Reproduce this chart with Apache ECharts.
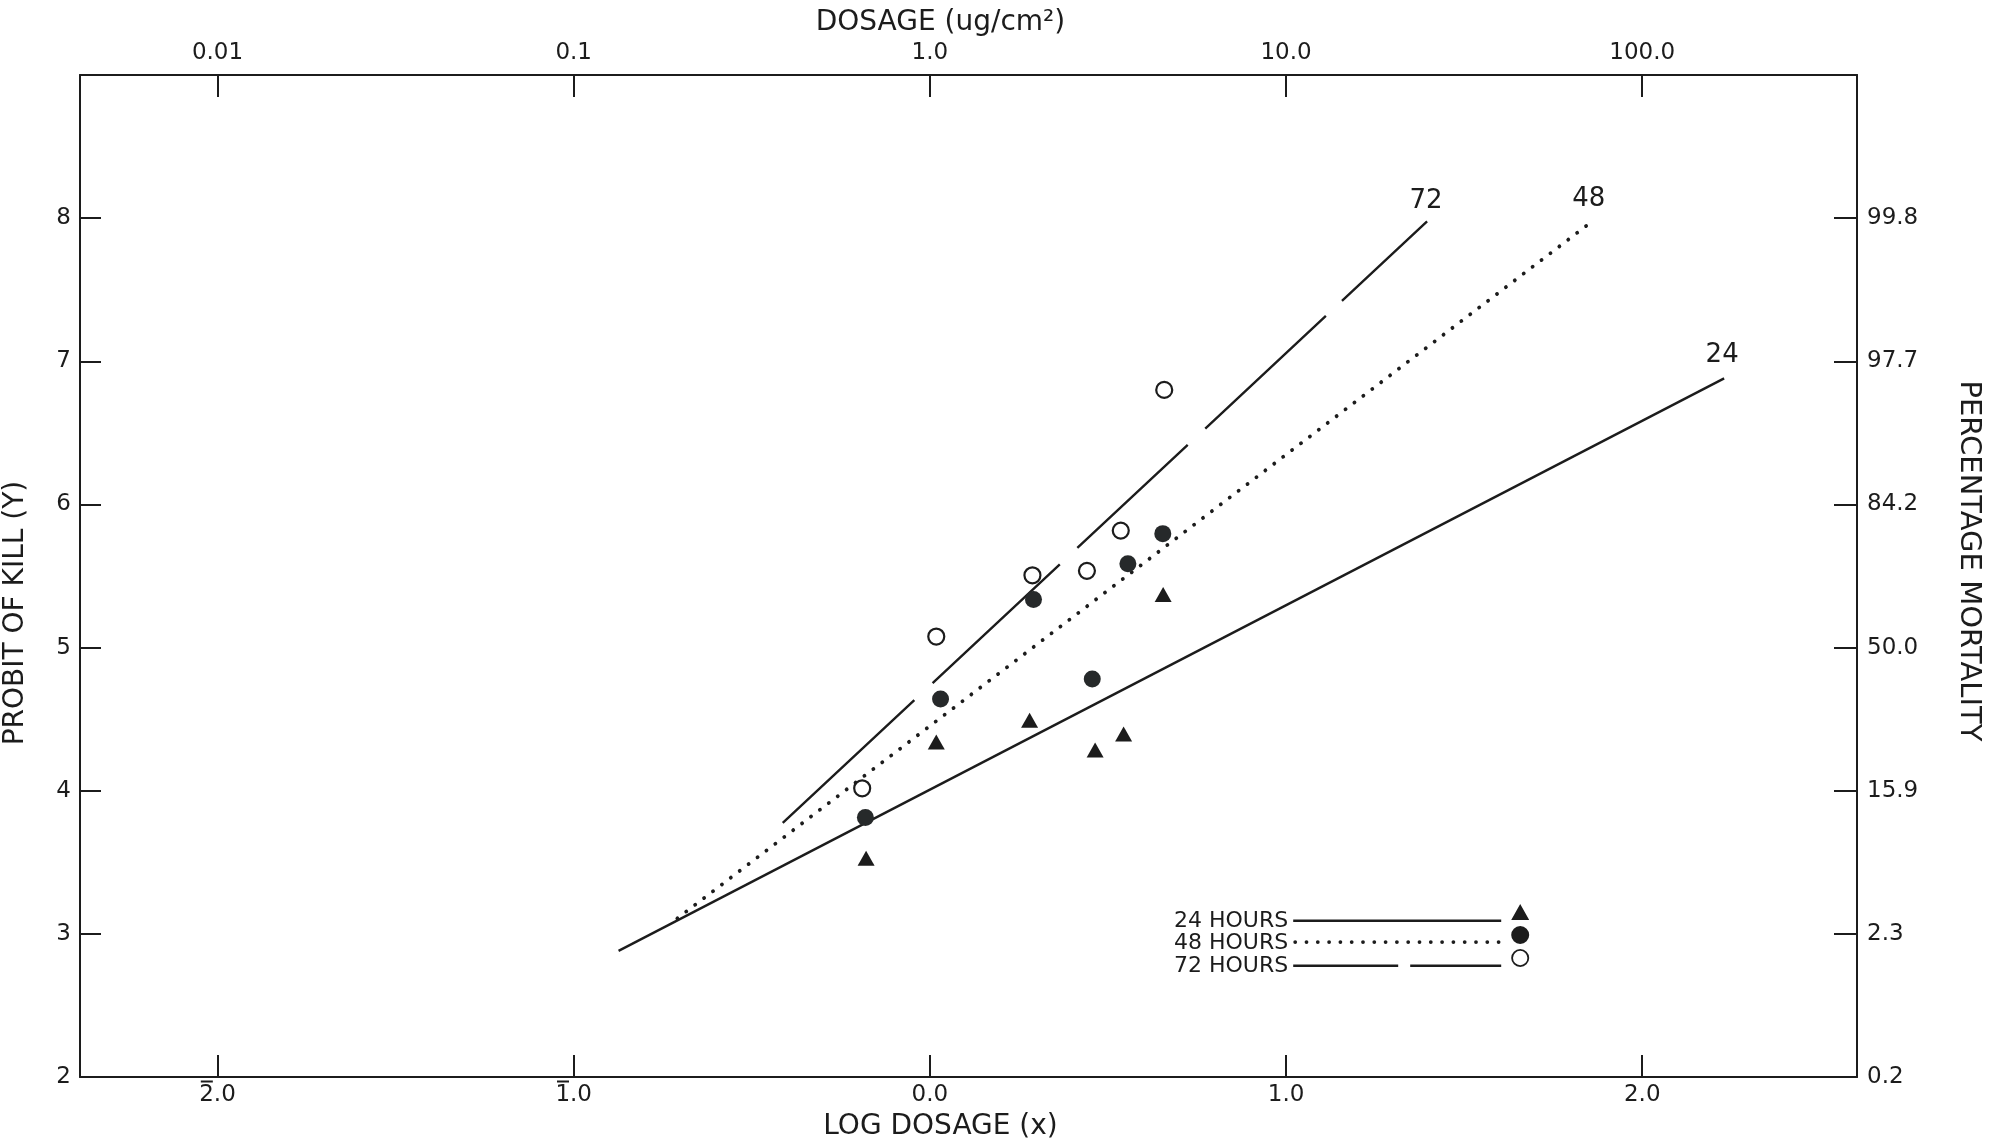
<!DOCTYPE html>
<html><head><meta charset="utf-8">
<script src="https://cdn.jsdelivr.net/npm/echarts@6/dist/echarts.min.js"></script>
<style>html,body{margin:0;padding:0;background:#fff}#c{width:1992px;height:1147px}</style>
</head><body><div id="c"></div>
<script>
// ---- data ----
const seriesNames = ['24 HOURS', '48 HOURS', '72 HOURS'];
const lineEndLabels = ['24', '48', '72'];
// observed points: [log dosage, probit]
const points24 = [[-0.179, 3.529], [0.018, 4.340], [0.280, 4.493], [0.464, 4.284], [0.544, 4.397], [0.655, 5.370]];
const points48 = [[-0.181, 3.813], [0.030, 4.641], [0.291, 5.336], [0.456, 4.781], [0.556, 5.586], [0.654, 5.796]];
const points72 = [[-0.190, 4.017], [0.018, 5.077], [0.288, 5.505], [0.441, 5.536], [0.536, 5.817], [0.658, 6.800]];
// fitted probit lines (end points)
const fitLine24 = [[-0.874, 2.881], [2.230, 6.881]];
const fitLine48 = [[-0.709, 3.108], [1.853, 7.965]];
const fitLine72 = [[-0.413, 3.775], [1.396, 7.977]];
// axes
const logDoseTicks = [-2, -1, 0, 1, 2];
const logDoseTickLabels = ['2\u0305.0', '1\u0305.0', '0.0', '1.0', '2.0'];
const doseTickLabels = ['0.01', '0.1', '1.0', '10.0', '100.0'];
const probitTicks = [2, 3, 4, 5, 6, 7, 8];
const probitTickLabels = ['2', '3', '4', '5', '6', '7', '8'];
const mortalityTickLabels = ['0.2', '2.3', '15.9', '50.0', '84.2', '97.7', '99.8'];

// ---- styling ----
const INK = '#1c1c1c';
const FONT = 'DejaVu Sans';
const TICK_FS = 23;
const X_MIN = -2.386, X_MAX = 2.603, Y_MIN = 2, Y_MAX = 9;

function rectP(x0, y0, x1, y1) { return `M${x0},${y0}L${x1},${y0}L${x1},${y1}L${x0},${y1}Z`; }
function circP(cx, cy, r, rev) {
  const s = rev ? 0 : 1;
  return `M${cx + r},${cy}A${r},${r} 0 1,${s} ${cx - r},${cy}A${r},${r} 0 1,${s} ${cx + r},${cy}Z`;
}
function dotsP() {
  let p = '';
  for (let i = 0; i < 19; i++) p += circP(2 + i * 11.3, 16.1, 1.9, false);
  return p;
}
const ICON_H = 35.4;
const bboxPad = `M0,${ICON_H}L0.01,${ICON_H}`; // zero-area point that only extends the icon box
const legendIcons = [
  'path://' + rectP(0, 15.4, 208, 18) + 'M227,0L236,16L218,16Z' + bboxPad,
  'path://' + dotsP() + circP(227, 9, 9, false) + bboxPad,
  'path://' + rectP(0, 15.4, 105, 18) + rectP(117, 15.4, 208, 18) + circP(227, 9, 9, false) + circP(227, 9, 7.2, true) + bboxPad
];
const legendTops = [904, 926, 949];

function axisLabelFmt(ticks, labels) { return v => { const i = ticks.indexOf(v); return i < 0 ? '' : labels[i]; }; }
// bottom labels: combining overline (U+0305) drawn as a bar over the first digit
function logLabelFmt(v) {
  const i = logDoseTicks.indexOf(v);
  if (i < 0) return '';
  const lab = logDoseTickLabels[i];
  const hasBar = lab.indexOf('\u0305') >= 0;
  const base = lab.replace('\u0305', '');
  return `{pad| }{${hasBar ? 'bar' : 'nobar'}| }{gh| }\n{n|${base}}`;
}

const chart = echarts.init(document.getElementById('c'), null, { renderer: 'canvas' });

const lineStyles = [
  { color: INK, width: 2.4, type: 'solid' },
  { color: INK, width: 3.8, type: [0.1, 11.1], cap: 'round' },
  { color: INK, width: 2.4, type: [180, 25, 174, 24, 151, 24, 165, 22, 200, 10] }
];
const endOffsets = [[-2, -10], [-1, -11], [-1, -7]];
const fits = [fitLine24, fitLine48, fitLine72];
const pts = [points24, points48, points72];
const markerDefs = [
  { symbol: 'triangle', symbolSize: [17, 15], itemStyle: { color: INK, borderWidth: 0, opacity: 1 } },
  { symbol: 'circle', symbolSize: 17, itemStyle: { color: '#26292a', borderWidth: 0, opacity: 1 } },
  { symbol: 'circle', symbolSize: 16, itemStyle: { color: '#ffffff', borderColor: INK, borderWidth: 2.2, opacity: 1 } }
];

const series = [];
fits.forEach((d, i) => {
  series.push({
    name: seriesNames[i], type: 'line', data: d, symbol: 'none', z: 2,
    lineStyle: lineStyles[i], itemStyle: { color: INK },
    endLabel: {
      show: true, formatter: lineEndLabels[i], fontFamily: FONT, fontSize: 26, color: INK,
      align: 'center', verticalAlign: 'bottom', distance: 0, offset: endOffsets[i]
    },
    emphasis: { disabled: true }, silent: true
  });
});
pts.forEach((d, i) => {
  series.push(Object.assign({ name: seriesNames[i], type: 'scatter', data: d, z: 3, emphasis: { disabled: true }, silent: true }, markerDefs[i]));
});

const tickLabelStyle = { fontFamily: FONT, fontSize: TICK_FS, color: INK };
const axisLineStyle = { show: true, onZero: false, lineStyle: { color: INK, width: 2 } };
const digitW = 0.636 * TICK_FS, restW = (0.318 + 0.636) * TICK_FS;

const option = {
  backgroundColor: '#ffffff',
  animation: false,
  grid: { left: 80, right: 135, top: 75, bottom: 70, containLabel: false, outerBoundsMode: 'none' },
  legend: seriesNames.map((n, i) => ({
    orient: 'vertical', align: 'right', left: 1174, top: legendTops[i], selectedMode: false,
    itemWidth: 236, itemHeight: ICON_H, symbolKeepAspect: true, padding: 0,
    textStyle: { fontFamily: FONT, fontSize: 22, color: INK },
    data: [{ name: n, icon: legendIcons[i], itemStyle: { color: INK, borderWidth: 0, opacity: 1 } }]
  })),
  xAxis: [
    {
      type: 'value', position: 'bottom', min: X_MIN, max: X_MAX,
      name: 'LOG DOSAGE (x)', nameLocation: 'middle', nameGap: 36,
      nameTextStyle: { fontFamily: FONT, fontSize: 28, color: INK, padding: [0, 56, 0, 0] },
      axisLine: axisLineStyle, splitLine: { show: false },
      axisTick: { show: true, inside: true, length: 22, customValues: logDoseTicks, lineStyle: { color: INK, width: 2 } },
      axisLabel: {
        customValues: logDoseTicks, margin: 2, formatter: logLabelFmt, ...tickLabelStyle,
        rich: {
          pad: { width: 1.6, height: 2, lineHeight: 5, fontSize: 1 },
          bar: { width: digitW - 2.6, height: 2, lineHeight: 5, fontSize: 1, backgroundColor: INK },
          nobar: { width: digitW - 2.6, height: 2, lineHeight: 5, fontSize: 1 },
          gh: { width: restW + 1, height: 2, lineHeight: 5, fontSize: 1 },
          n: { fontFamily: FONT, fontSize: TICK_FS, color: INK }
        }
      }
    },
    {
      type: 'value', position: 'top', min: X_MIN, max: X_MAX,
      name: 'DOSAGE (ug/cm²)', nameLocation: 'middle', nameGap: 36,
      nameTextStyle: { fontFamily: FONT, fontSize: 28, color: INK, padding: [0, 56, 0, 0] },
      axisLine: axisLineStyle, splitLine: { show: false },
      axisTick: { show: true, inside: true, length: 22, customValues: logDoseTicks, lineStyle: { color: INK, width: 2 } },
      axisLabel: { customValues: logDoseTicks, margin: 10, formatter: axisLabelFmt(logDoseTicks, doseTickLabels), ...tickLabelStyle }
    }
  ],
  yAxis: [
    {
      type: 'value', position: 'left', min: Y_MIN, max: Y_MAX,
      name: 'PROBIT OF KILL (Y)', nameLocation: 'middle', nameGap: 50, nameRotate: 90,
      nameTextStyle: { fontFamily: FONT, fontSize: 28, color: INK, padding: [0, 74, 0, 0] },
      axisLine: axisLineStyle, splitLine: { show: false },
      axisTick: { show: true, inside: true, length: 21, customValues: probitTicks, lineStyle: { color: INK, width: 2 } },
      axisLabel: { customValues: probitTicks, margin: 9, formatter: axisLabelFmt(probitTicks, probitTickLabels), ...tickLabelStyle }
    },
    {
      type: 'value', position: 'right', min: Y_MIN, max: Y_MAX,
      name: 'PERCENTAGE MORTALITY', nameLocation: 'middle', nameGap: 97, nameRotate: -90,
      nameTextStyle: { fontFamily: FONT, fontSize: 29, color: INK, padding: [0, 30, 0, 0] },
      axisLine: axisLineStyle, splitLine: { show: false },
      axisTick: { show: true, inside: true, length: 23, customValues: probitTicks, lineStyle: { color: INK, width: 2 } },
      axisLabel: { customValues: probitTicks, margin: 10, formatter: axisLabelFmt(probitTicks, mortalityTickLabels), ...tickLabelStyle }
    }
  ],
  series: series
};
chart.setOption(option);
</script>
</body></html>
